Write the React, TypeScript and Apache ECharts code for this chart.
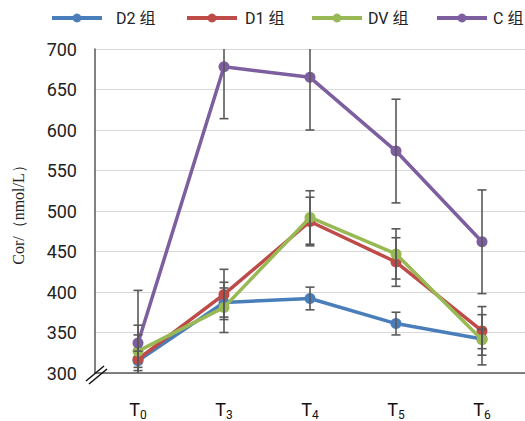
import React, { useEffect, useRef } from "react";
import * as echarts from "echarts";

const categories = ["T0", "T3", "T4", "T5", "T6"];
const seriesNames = ["D2 组", "D1 组", "DV 组", "C 组"];
const d2Values = [315, 387, 392, 361, 342];
const d1Values = [317, 397, 487, 437, 352];
const dvValues = [327, 381, 492, 447, 341];
const cValues = [337, 678, 665, 574, 462];
const d2Err = [12, 18, 14, 14, 12];
const d1Err = [42, 31, 30, 30, 30];
const dvErr = [20, 31, 33, 31, 31];
const cErr = [65, 64, 65, 64, 64];
const yTicks = { min: 300, max: 700, interval: 50 };

const colors = ["#4A7EBB", "#BE4B48", "#98B954", "#7D5FA0"];
const legendLeft = [45, 180, 305, 430];
const legendSpacer = [9, 3, 1, 1];

export default function App() {
  const ref = useRef<HTMLDivElement>(null);
  useEffect(() => {
    if (!ref.current) return;
    const chart = echarts.init(ref.current, undefined, { renderer: "svg" });
    const values = [d2Values, d1Values, dvValues, cValues];
    const errs = [d2Err, d1Err, dvErr, cErr];

    const lineSeries = values.map((vals, i) => ({
      name: seriesNames[i],
      type: "line",
      data: vals,
      symbol: "circle",
      symbolSize: 11,
      lineStyle: { width: 3.5, color: colors[i] },
      itemStyle: { color: colors[i] },
      z: 2 + i,
    }));

    const errData: number[][] = [];
    values.forEach((vals, i) => {
      vals.forEach((v, j) => {
        errData.push([j, v - errs[i][j], v + errs[i][j]]);
      });
    });

    const errorSeries = {
      type: "custom",
      name: "err",
      data: errData,
      clip: true,
      z: 10,
      encode: { x: 0, y: [1, 2] },
      renderItem: (params: any, api: any) => {
        const x = api.value(0);
        const lo = api.coord([x, api.value(1)]);
        const hi = api.coord([x, api.value(2)]);
        const hw = 4.5;
        const style = { stroke: "#595959", lineWidth: 1.6 };
        return {
          type: "group",
          children: [
            { type: "line", shape: { x1: lo[0], y1: lo[1], x2: hi[0], y2: hi[1] }, style },
            { type: "line", shape: { x1: lo[0] - hw, y1: lo[1], x2: lo[0] + hw, y2: lo[1] }, style },
            { type: "line", shape: { x1: hi[0] - hw, y1: hi[1], x2: hi[0] + hw, y2: hi[1] }, style },
          ],
        };
      },
    };

    const legends = seriesNames.map((name, i) => ({
      data: [name],
      left: legendLeft[i],
      top: 5,
      itemWidth: 50,
      itemHeight: 11,
      lineStyle: { width: 4 },
      formatter: (n: string) => `{g|}{n|${n}}`,
      textStyle: {
        rich: {
          g: { width: legendSpacer[i] },
          n: { fontSize: 16, color: "#222", fontFamily: "Roboto, 'Noto Sans CJK SC', sans-serif" },
        },
      },
    }));

    chart.setOption({
      animation: false,
      backgroundColor: "#ffffff",
      textStyle: { fontFamily: "Roboto, 'Noto Sans CJK SC', sans-serif" },
      legend: legends,
      grid: { left: 95, right: 0, top: 49, bottom: 45 },
      xAxis: {
        type: "category",
        data: categories,
        boundaryGap: true,
        axisLine: { show: true, lineStyle: { color: "#595959", width: 1.5 } },
        axisTick: { show: false },
        axisLabel: {
          margin: 25,
          formatter: (v: string) => `{t|${v.slice(0, 1)}}{s|${v.slice(1)}}`,
          rich: {
            t: { fontSize: 18, color: "#111", fontFamily: "Roboto", verticalAlign: "bottom", lineHeight: 20 },
            s: { fontSize: 12, color: "#111", fontFamily: "Roboto", verticalAlign: "bottom", padding: [0, 0, -3, 0], lineHeight: 20 },
          },
        },
        splitLine: { show: false },
      },
      yAxis: {
        type: "value",
        min: yTicks.min,
        max: yTicks.max,
        interval: yTicks.interval,
        name: "Cor/（nmol/L）",
        nameLocation: "middle",
        nameGap: 69,
        nameTextStyle: { fontFamily: "'Liberation Serif', serif", fontSize: 16, color: "#222" },
        axisLine: { show: true, lineStyle: { color: "#595959", width: 1.5 } },
        axisTick: { show: false },
        axisLabel: {
          margin: 18,
          fontSize: 18,
          color: "#222",
          fontFamily: "Roboto",
          padding: [12, 0, 0, 0],
        },
        splitLine: { show: true, lineStyle: { color: "#D9D9D9", width: 1 } },
      },
      graphic: [
        { type: "line", shape: { x1: 86, y1: 381, x2: 104, y2: 366 }, style: { stroke: "#111", lineWidth: 1.5 }, z: 100 },
        { type: "line", shape: { x1: 89, y1: 384, x2: 107, y2: 369 }, style: { stroke: "#111", lineWidth: 1.5 }, z: 100 },
      ],
      series: [...lineSeries, errorSeries],
    });
    return () => chart.dispose();
  }, []);
  return (
    <div
      ref={ref}
      style={{ position: "fixed", left: 0, top: 0, width: 525, height: 421 }}
    />
  );
}
